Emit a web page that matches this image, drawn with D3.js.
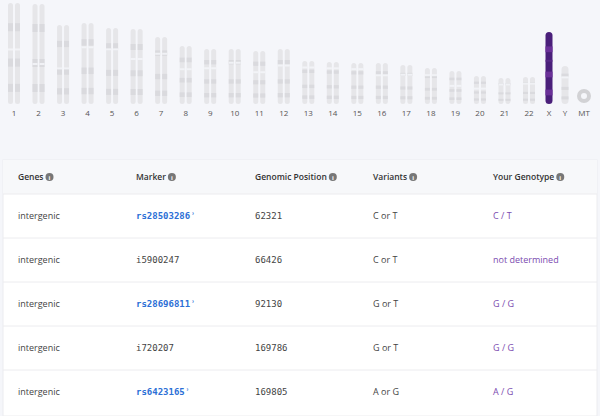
<!DOCTYPE html>
<html>
<head>
<script src="https://d3js.org/d3.v7.min.js"></script>
<style>
body{margin:0;background:#f5f6fa;font-family:"Open Sans",sans-serif;}
</style>
</head>
<body>
<svg width="600" height="416"></svg>
<script>
var chromNames = ["1","2","3","4","5","6","7","8","9","10","11","12","13","14","15","16","17","18","19","20","21","22","X","Y","MT"];
// relative lengths (pixels of ideogram height as read)
var chromLengths = [101,100,79,81,76,75,67,58,55,55,53,55,43,42,41,41,39,36,33,28,26,27,72,38,0];
var centromeres = [0.46,0.6,0.55,0.3,0.28,0.4,0.25,0.4,0.35,0.25,0.4,0.3,0.15,0.15,0.15,0.3,0.25,0.2,0.45,0.45,0.25,0.25,0.4,0.3,0];

var genes = ["intergenic","intergenic","intergenic","intergenic","intergenic"];
var markers = ["rs28503286","i5900247","rs28696811","i720207","rs6423165"];
var positions = ["62321","66426","92130","169786","169805"];
var variants = ["C or T","C or T","G or T","G or T","A or G"];
var genotypes = ["C / T","not determined","G / G","G / G","A / G"];
var headers = ["Genes","Marker","Genomic Position","Variants","Your Genotype"];

var svg = d3.select("svg");
var auto = d3.scaleLinear().domain([0,21]).range([14,529]);
function cx(n){
  if(n==="X") return 549; if(n==="Y") return 565; if(n==="MT") return 584;
  return auto(+n-1);
}
var y = d3.scaleLinear().domain([0,101]).range([104,3]);

var g = svg.append("g");
chromNames.forEach(function(n,i){
  var len = chromLengths[i], c = cx(n);
  if(n==="MT"){
    g.append("circle").attr("cx",c).attr("cy",96).attr("r",5).attr("fill","none").attr("stroke","#d2d2d5").attr("stroke-width",4);
  } else {
    var single = (n==="X"||n==="Y");
    var w = single?7:5;
    var offs = single?[0]:[-3.5,3.5];
    var top = y(len), h = 104-top;
    offs.forEach(function(o){
      var col = n==="X" ? "#4a1f7a" : "#e6e6e9";
      g.append("rect").attr("x",c+o-w/2).attr("y",top).attr("width",w).attr("height",h)
        .attr("rx",w/2).attr("fill",col);
      var bandCol = n==="X" ? "#6a3098" : "#dadade";
      [0.2,0.55,0.8].forEach(function(f){
        g.append("rect").attr("x",c+o-w/2).attr("y",top+h*f).attr("width",w).attr("height",h*0.08)
          .attr("fill",bandCol);
      });
      g.append("rect").attr("x",c+o-w/2).attr("y",top+h*centromeres[i]-1).attr("width",w).attr("height",2)
        .attr("fill",n==="X"?"#5a2a8a":"#f5f6fa").attr("opacity",0.8);
    });
  }
  g.append("text").attr("x",c).attr("y",116).attr("text-anchor","middle")
    .attr("font-size",8).attr("fill","#555").text(n);
});

// table
var colX = [18,136,255,373,493];
var rowY = d3.scaleBand().domain(d3.range(5)).range([194,414]);
svg.append("rect").attr("x",3).attr("y",160).attr("width",594).attr("height",256).attr("fill","#fff").attr("stroke","#ececef");
svg.append("rect").attr("x",3).attr("y",160).attr("width",594).attr("height",34).attr("fill","#f7f8fa");
headers.forEach(function(h,i){
  var t = svg.append("text").attr("x",colX[i]).attr("y",180).attr("font-size",8.5).attr("font-weight",600).attr("fill","#333").text(h);
  var wdt = t.node().getComputedTextLength();
  svg.append("circle").attr("cx",colX[i]+wdt+6).attr("cy",177).attr("r",4).attr("fill","#777");
  svg.append("text").attr("x",colX[i]+wdt+6).attr("y",179.5).attr("text-anchor","middle").attr("font-size",6).attr("font-weight",700).attr("fill","#fff").text("i");
});
d3.range(5).forEach(function(r){
  var ty = rowY(r)+rowY.bandwidth()/2+3;
  svg.append("line").attr("x1",3).attr("x2",597).attr("y1",rowY(r)).attr("y2",rowY(r)).attr("stroke","#ececef");
  svg.append("text").attr("x",colX[0]).attr("y",ty).attr("font-size",9).attr("fill","#444").text(genes[r]);
  var isRs = markers[r].indexOf("rs")===0;
  svg.append("text").attr("x",colX[1]).attr("y",ty).attr("font-size",9).attr("font-family","DejaVu Sans Mono")
    .attr("font-weight",isRs?700:400).attr("fill",isRs?"#2c6fd6":"#444").text(markers[r]+(isRs?"ʾ":""));
  svg.append("text").attr("x",colX[2]).attr("y",ty).attr("font-size",9).attr("font-family","DejaVu Sans Mono").attr("fill","#444").text(positions[r]);
  svg.append("text").attr("x",colX[3]).attr("y",ty).attr("font-size",9).attr("fill","#444").text(variants[r]);
  svg.append("text").attr("x",colX[4]).attr("y",ty).attr("font-size",9).attr("fill","#7b4bb0").text(genotypes[r]);
});
</script>
</body>
</html>
